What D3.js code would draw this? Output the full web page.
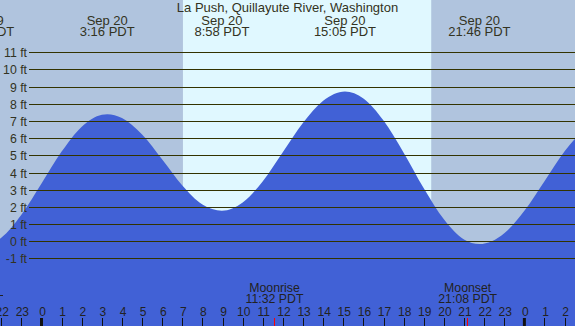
<!DOCTYPE html>
<html><head><meta charset="utf-8">
<script src="https://cdn.jsdelivr.net/npm/d3@7"></script>
<style>html,body{margin:0;padding:0;overflow:hidden;background:#fff}svg{display:block}text{font-family:"Liberation Sans",Arial,sans-serif}</style>
</head><body>
<script>
// ---- data (hours relative to midnight starting Sep 20, PDT) ----
const tideHours   = [-3.1,-2,-1,0,1,2,3,3.267,4,5,6,7,8,8.967,10,11,12,13,14,15.083,16,17,18,19,20,21,21.767,23,24,25,26,27];
const tideHeights = [-0.35,0.21,1.55,3.37,5.22,6.67,7.37,7.4,7.17,6.21,4.76,3.25,2.14,1.78,2.26,3.5,5.2,6.9,8.18,8.72,8.31,7.03,5.16,3.09,1.28,0.11,-0.16,0.47,1.78,3.5,5.24,6.59];
const extremeHours = [-2.9, 3.267, 8.967, 15.083, 21.767];
const extremeDates = ["Sep 19","Sep 20","Sep 20","Sep 20","Sep 20"];
const extremeTimes = ["21:05 PDT","3:16 PDT","8:58 PDT","15:05 PDT","21:46 PDT"];
const sunriseHour = 7.03, sunsetHour = 19.37;
const moonHours  = [11.533, 21.133];
const moonNames  = ["Moonrise","Moonset"];
const moonTimes  = ["11:32 PDT","21:08 PDT"];
const feetTicks  = [-1,0,1,2,3,4,5,6,7,8,9,10,11];
const hourTicks  = d3.range(-2, 27);
const title = "La Push, Quillayute River, Washington";

const W = 575, H = 326;
const x = d3.scaleLinear().domain([-2.0626, 26.516]).range([0, W]);
const y = d3.scaleLinear().domain([0, 11]).range([241.3, 52.3]);

const svg = d3.select("body").append("svg").attr("width", W).attr("height", H);

// background: night / day
svg.append("rect").attr("x",0).attr("y",0).attr("width",W).attr("height",H).attr("fill","#b0c4de");
svg.append("rect").attr("x",x(sunriseHour)).attr("y",0)
  .attr("width",x(sunsetHour)-x(sunriseHour)).attr("height",H).attr("fill","#e0f8ff");

// tide area
const pts = tideHours.map((h,i)=>[h, tideHeights[i]]);
svg.append("path").datum(pts)
  .attr("d", d3.area().x(d=>x(d[0])).y0(H).y1(d=>y(d[1])).curve(d3.curveMonotoneX))
  .attr("fill","#4161d6");

// grid lines + labels
const g = svg.append("g");
feetTicks.forEach(f=>{
  const yy = Math.round(y(f)) + 0.5;
  g.append("line").attr("x1",29).attr("x2",W).attr("y1",yy).attr("y2",yy)
    .attr("stroke","#333300").attr("stroke-width",1.2);
  g.append("text").attr("x",27).attr("y",yy+4.3).attr("text-anchor","end")
    .attr("font-size",12.3).attr("fill","#333322").text(f+" ft");
});

// title
svg.append("text").attr("x",W/2).attr("y",12.3).attr("text-anchor","middle")
  .attr("font-size",13).attr("fill","#333322").text(title);

// extreme labels
extremeHours.forEach((h,i)=>{
  svg.append("text").attr("x",x(h)).attr("y",24.5).attr("text-anchor","middle")
    .attr("font-size",13).attr("fill","#333322").text(extremeDates[i]);
  svg.append("text").attr("x",x(h)).attr("y",36).attr("text-anchor","middle")
    .attr("font-size",13).attr("fill","#333322").text(extremeTimes[i]);
});

// small dash at left
svg.append("line").attr("x1",0).attr("x2",3).attr("y1",295.5).attr("y2",295.5).attr("stroke","#222");

// hour ticks and labels
hourTicks.forEach(h=>{
  const hh = ((h % 24) + 24) % 24;
  const xx = x(h);
  const mid = hh === 0;
  svg.append("line").attr("x1",mid?xx:Math.round(xx)+0.5).attr("x2",mid?xx:Math.round(xx)+0.5)
    .attr("y1",318).attr("y2",H)
    .attr("stroke","#111").attr("stroke-width",mid?3:1);
  svg.append("text").attr("x",xx+1).attr("y",316).attr("text-anchor","middle")
    .attr("font-size",12).attr("fill","#222").text(hh);
});

// moon events
moonHours.forEach((h,i)=>{
  const xx = Math.round(x(h))+0.5;
  svg.append("line").attr("x1",xx).attr("x2",xx).attr("y1",318).attr("y2",H)
    .attr("stroke","#ff0000").attr("stroke-width",1);
  svg.append("text").attr("x",x(h)+1).attr("y",291.5).attr("text-anchor","middle")
    .attr("font-size",12.3).attr("fill","#222").text(moonNames[i]);
  svg.append("text").attr("x",x(h)+1).attr("y",303).attr("text-anchor","middle")
    .attr("font-size",12.3).attr("fill","#222").text(moonTimes[i]);
});
</script>
</body></html>
